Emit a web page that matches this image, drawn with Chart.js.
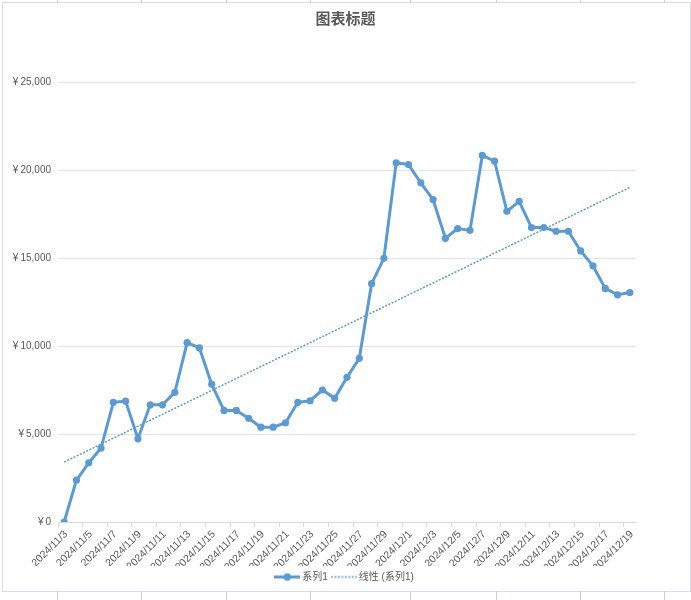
<!DOCTYPE html>
<html>
<head>
<meta charset="utf-8">
<script src="https://cdn.jsdelivr.net/npm/chart.js@4"></script>
<style>
  html, body { margin: 0; padding: 0; background: #fff; }
  #wrap { position: relative; width: 691px; height: 600px; }
  #frame { position: absolute; left: 2px; top: 2px; width: 687px; height: 588px; border: 1px solid #d9dbe3; }
  .col { position: absolute; width: 1px; background: #c9cde0; }
  canvas { position: absolute; left: 0; top: 0; }
</style>
</head>
<body>
<div id="wrap">
  <div id="frame"></div>
  <canvas id="chart" width="691" height="600"></canvas>
</div>
<script>
const categories = [
    '2024/11/3', '2024/11/4', '2024/11/5', '2024/11/6', '2024/11/7', '2024/11/8',
    '2024/11/9', '2024/11/10', '2024/11/11', '2024/11/12', '2024/11/13', '2024/11/14',
    '2024/11/15', '2024/11/16', '2024/11/17', '2024/11/18', '2024/11/19', '2024/11/20',
    '2024/11/21', '2024/11/22', '2024/11/23', '2024/11/24', '2024/11/25', '2024/11/26',
    '2024/11/27', '2024/11/28', '2024/11/29', '2024/11/30', '2024/12/1', '2024/12/2',
    '2024/12/3', '2024/12/4', '2024/12/5', '2024/12/6', '2024/12/7', '2024/12/8',
    '2024/12/9', '2024/12/10', '2024/12/11', '2024/12/12', '2024/12/13', '2024/12/14',
    '2024/12/15', '2024/12/16', '2024/12/17', '2024/12/18', '2024/12/19'
];

const series1 = [
    0, 2375, 3360, 4200, 6800, 6870, 4730, 6660, 6660, 7370, 10190, 9890,
    7820, 6340, 6340, 5890, 5390, 5390, 5640, 6800, 6890, 7500, 7030, 8220,
    9300, 13540, 14980, 20410, 20310, 19270, 18320, 16120, 16670, 16570, 20830, 20500,
    17650, 18220, 16730, 16730, 16520, 16520, 15400, 14560, 13270, 12910, 13040
];

const yTicks = [0, 5000, 10000, 15000, 20000, 25000];

const seriesName = '系列1';
const trendName = '线性 (系列1)';
const blue = '#5b9bd5';

// least squares trend line, like Excel's linear trendline
const n = series1.length;
const xMean = (n - 1) / 2;
const yMean = series1.reduce((a, b) => a + b, 0) / n;
let sxy = 0, sxx = 0;
series1.forEach((y, i) => {
    sxy += (i - xMean) * (y - yMean);
    sxx += (i - xMean) * (i - xMean);
});
const slope = sxy / sxx;
const trend = series1.map((y, i) => yMean + slope * (i - xMean));

// spreadsheet column marks around the chart box
const wrap = document.getElementById('wrap');
[57, 141, 226, 310, 410, 496, 580, 664].forEach(x => {
    [[0, 2], [591, 9]].forEach(([top, h]) => {
        const d = document.createElement('div');
        d.className = 'col';
        d.style.left = x + 'px';
        d.style.top = top + 'px';
        d.style.height = h + 'px';
        wrap.appendChild(d);
    });
});

// legend swatches
function swatch(dotted) {
    const c = document.createElement('canvas');
    c.width = 26; c.height = 9;
    const g = c.getContext('2d');
    g.strokeStyle = blue;
    if (dotted) {
        g.lineWidth = 1.5;
        g.setLineDash([2, 1.5]);
        g.beginPath(); g.moveTo(0, 4.5); g.lineTo(26, 4.5); g.stroke();
    } else {
        g.lineWidth = 3;
        g.beginPath(); g.moveTo(0, 4.5); g.lineTo(26, 4.5); g.stroke();
        g.fillStyle = blue;
        g.beginPath(); g.arc(13, 4.5, 3.8, 0, Math.PI * 2); g.fill();
    }
    return c;
}
const swatches = [swatch(false), swatch(true)];

const font = "'Liberation Sans', 'Noto Sans CJK SC', sans-serif";
const ctx = document.getElementById('chart').getContext('2d');
const chart = new Chart(ctx, {
    type: 'line',
    data: {
        labels: categories,
        datasets: [{
            label: seriesName,
            data: series1,
            borderColor: blue,
            backgroundColor: blue,
            borderWidth: 3,
            pointRadius: 3.6,
            pointBorderWidth: 0,
            pointStyle: 'circle',
            tension: 0
        }, {
            label: trendName,
            data: trend,
            borderColor: blue,
            backgroundColor: blue,
            borderWidth: 1.5,
            borderDash: [2, 1.5],
            pointRadius: 0,
            tension: 0
        }]
    },
    options: {
        responsive: false,
        animation: false,
        layout: {
            padding: { left: 0, right: 0, top: 0, bottom: 8 }
        },
        plugins: {
            title: {
                display: true,
                text: '图表标题',
                color: '#595959',
                font: { family: "'Noto Sans CJK SC', sans-serif", size: 15, weight: 'bold' },
                padding: { top: 9, bottom: 55 }
            },
            legend: {
                position: 'bottom',
                labels: {
                    usePointStyle: true,
                    pointStyleWidth: 20,
                    color: '#595959',
                    padding: 6,
                    font: { family: font, size: 10 },
                    generateLabels: c => {
                        const items = Chart.defaults.plugins.legend.labels.generateLabels(c);
                        items.forEach((it, i) => { it.pointStyle = swatches[i]; });
                        return items;
                    }
                }
            },
            tooltip: { enabled: false }
        },
        scales: {
            x: {
                offset: true,
                afterFit: scale => { scale.height = 44; },
                grid: {
                    offset: true,
                    drawOnChartArea: false,
                    drawTicks: true,
                    tickLength: 5,
                    color: c => (c.index % 2 === 0 ? '#d9d9d9' : 'rgba(0,0,0,0)')
                },
                border: { color: '#d9d9d9', width: 1 },
                ticks: {
                    autoSkip: false,
                    maxRotation: 45,
                    minRotation: 45,
                    padding: 1,
                    labelOffset: 2,
                    color: '#595959',
                    font: { family: font, size: 10.5 },
                    callback: (v, i) => (i % 2 === 0 ? categories[i] : '')
                }
            },
            y: {
                min: yTicks[0],
                max: yTicks[yTicks.length - 1],
                afterFit: scale => { scale.width = 58; },
                afterBuildTicks: scale => { scale.ticks = yTicks.map(v => ({ value: v })); },
                grid: { color: '#e3e3e3', drawTicks: false },
                border: { display: false },
                ticks: {
                    padding: 7,
                    color: '#595959',
                    font: { family: font, size: 10 },
                    callback: v => '¥\u2009' + v.toLocaleString('en-US')
                }
            },
            // empty right-hand strip so title and legend stay centred on the whole box
            pad: {
                type: 'linear',
                position: 'right',
                afterFit: scale => { scale.width = 55; },
                grid: { display: false },
                border: { display: false },
                ticks: { display: false }
            }
        }
    }
});
</script>
</body>
</html>
